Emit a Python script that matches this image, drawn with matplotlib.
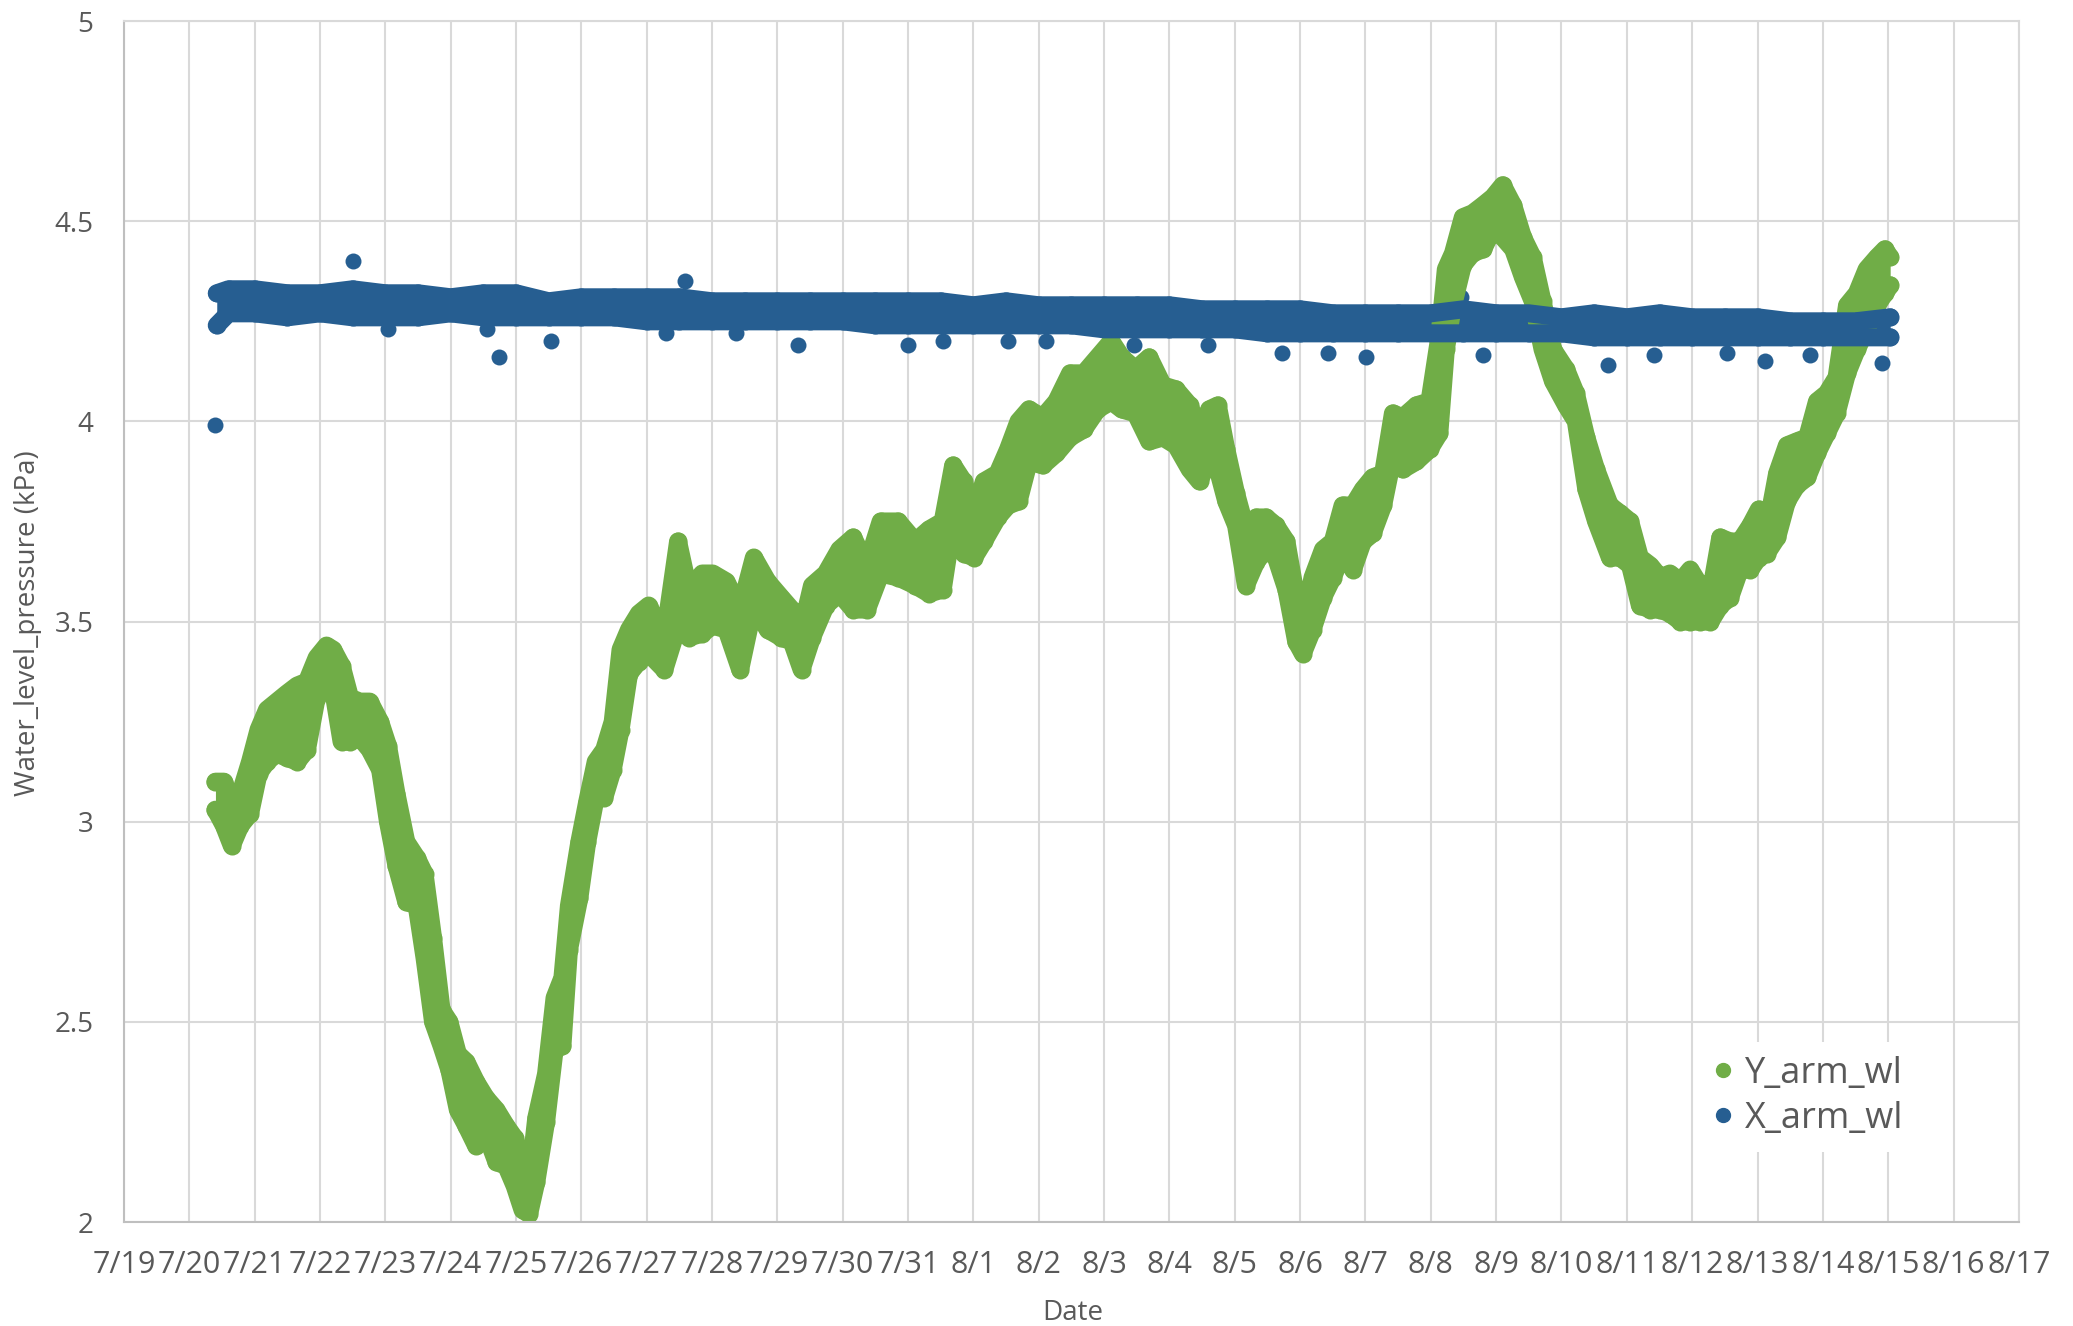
import matplotlib.pyplot as plt
from matplotlib.lines import Line2D
import numpy as np

plt.rcParams['font.family'] = ['Open Sans', 'DejaVu Sans']

# x = days after 7/19 00:00
date_labels = ["7/19", "7/20", "7/21", "7/22", "7/23", "7/24", "7/25", "7/26",
               "7/27", "7/28", "7/29", "7/30", "7/31", "8/1", "8/2", "8/3",
               "8/4", "8/5", "8/6", "8/7", "8/8", "8/9", "8/10", "8/11",
               "8/12", "8/13", "8/14", "8/15", "8/16", "8/17"]
y_ticks = [2, 2.5, 3, 3.5, 4, 4.5, 5]

# Y_arm_wl: upper / lower edge of the dense point cloud
y_arm_t = [1.40, 1.53, 1.65, 1.78, 1.93, 2.06, 2.19, 2.34, 2.49, 2.65, 2.80, 2.95,
           3.10, 3.20, 3.33, 3.46, 3.61, 3.76, 3.92, 4.04, 4.17, 4.32, 4.48, 4.60,
           4.73, 4.86, 4.98, 5.11, 5.24, 5.39, 5.54, 5.70, 5.85, 5.98, 6.10, 6.20,
           6.31, 6.46, 6.59, 6.71, 6.81, 6.97, 7.09, 7.22, 7.35, 7.48, 7.60, 7.73,
           7.88, 8.03, 8.27, 8.48, 8.64, 8.85, 9.01, 9.22, 9.43, 9.64, 9.85, 10.06,
           10.22, 10.37, 10.53, 10.74, 10.95, 11.16, 11.37, 11.58, 11.85, 12.11,
           12.32, 12.53, 12.69, 12.85, 13.01, 13.16, 13.37, 13.53, 13.69, 13.85,
           14.06, 14.27, 14.48, 14.69, 14.90, 15.11, 15.27, 15.48, 15.69, 15.90,
           16.10, 16.31, 16.46, 16.61, 16.74, 16.87, 17.02, 17.17, 17.33, 17.48,
           17.63, 17.79, 17.94, 18.04, 18.19, 18.35, 18.50, 18.65, 18.81, 18.96,
           19.11, 19.27, 19.42, 19.57, 19.78, 19.98, 20.13, 20.23, 20.34, 20.49,
           20.64, 20.80, 20.95, 21.10, 21.26, 21.41, 21.56, 21.71, 21.87, 22.07,
           22.22, 22.38, 22.53, 22.74, 22.90, 23.05, 23.20, 23.36, 23.51, 23.66,
           23.82, 23.97, 24.12, 24.28, 24.43, 24.58, 24.73, 24.89, 25.02, 25.14,
           25.30, 25.45, 25.60, 25.76, 25.91, 26.06, 26.21, 26.37, 26.52, 26.67,
           26.83, 26.95, 27.03]
y_arm_hi = [3.10, 3.10, 3.05, 3.07, 3.15, 3.23, 3.28, 3.30, 3.32, 3.34, 3.35, 3.41,
            3.44, 3.43, 3.39, 3.31, 3.30, 3.30, 3.25, 3.19, 3.07, 2.95, 2.91, 2.87,
            2.71, 2.53, 2.50, 2.42, 2.40, 2.35, 2.31, 2.28, 2.24, 2.21, 2.14, 2.10,
            2.26, 2.37, 2.56, 2.61, 2.79, 2.95, 3.05, 3.15, 3.18, 3.25, 3.43, 3.48,
            3.52, 3.54, 3.46, 3.70, 3.58, 3.62, 3.62, 3.60, 3.53, 3.66, 3.60, 3.56,
            3.53, 3.48, 3.59, 3.62, 3.68, 3.71, 3.64, 3.75, 3.75, 3.70,
            3.73, 3.75, 3.89, 3.85, 3.77, 3.85, 3.87, 3.93, 4.00, 4.03,
            4.01, 4.05, 4.12, 4.12, 4.16, 4.20, 4.16, 4.13, 4.16, 4.09,
            4.08, 4.04, 3.97, 4.03, 4.04, 3.93, 3.82, 3.73, 3.76, 3.76,
            3.74, 3.70, 3.56, 3.49, 3.61, 3.68, 3.70, 3.79, 3.79, 3.83,
            3.86, 3.87, 4.02, 4.01, 4.04, 4.05, 4.21, 4.38, 4.42, 4.51,
            4.52, 4.54, 4.56, 4.59, 4.54, 4.46, 4.41, 4.30, 4.18, 4.13,
            4.07, 3.96, 3.88, 3.79, 3.77, 3.75, 3.66, 3.64, 3.61, 3.62,
            3.60, 3.63, 3.59, 3.57, 3.71, 3.70, 3.70, 3.74, 3.78, 3.73,
            3.87, 3.94, 3.95, 3.96, 4.05, 4.07, 4.11, 4.29, 4.32, 4.38,
            4.41, 4.43, 4.41]
y_arm_lo = [3.03, 2.99, 2.94, 2.99, 3.02, 3.12, 3.15, 3.17, 3.16, 3.15, 3.18, 3.31,
            3.34, 3.33, 3.20, 3.20, 3.21, 3.18, 3.13, 3.00, 2.89, 2.80, 2.79, 2.66,
            2.50, 2.44, 2.38, 2.28, 2.24, 2.19, 2.22, 2.15, 2.14, 2.09, 2.03, 2.02,
            2.10, 2.25, 2.43, 2.44, 2.68, 2.81, 2.95, 3.06, 3.06, 3.13, 3.23, 3.37,
            3.40, 3.42, 3.38, 3.49, 3.46, 3.47, 3.49, 3.48, 3.38, 3.54, 3.48, 3.46,
            3.45, 3.38, 3.46, 3.54, 3.57, 3.53, 3.53, 3.62, 3.61, 3.59,
            3.57, 3.58, 3.75, 3.67, 3.66, 3.70, 3.76, 3.79, 3.80, 3.90,
            3.89, 3.92, 3.96, 3.98, 4.03, 4.05, 4.03, 4.02, 3.95, 3.96,
            3.94, 3.88, 3.85, 3.91, 3.88, 3.80, 3.74, 3.59, 3.65, 3.68,
            3.66, 3.58, 3.45, 3.42, 3.48, 3.56, 3.61, 3.67, 3.63, 3.70,
            3.72, 3.79, 3.91, 3.88, 3.90, 3.93, 3.97, 4.18, 4.29, 4.39,
            4.42, 4.43, 4.48, 4.46, 4.43, 4.36, 4.30, 4.18, 4.10, 4.04,
            4.00, 3.83, 3.75, 3.66, 3.66, 3.64, 3.54, 3.53, 3.53, 3.52,
            3.50, 3.50, 3.50, 3.50, 3.54, 3.56, 3.63, 3.63, 3.66, 3.67,
            3.71, 3.80, 3.84, 3.86, 3.92, 3.97, 4.02, 4.12, 4.18, 4.23,
            4.29, 4.32, 4.34]

# X_arm_wl: upper / lower edge of the band, plus the stray points
x_arm_t = [1.42, 1.6, 2.0, 2.5, 3.0, 3.5, 4.0, 4.5, 5.0, 5.5, 6.0, 6.5, 7.0, 7.5,
           8.0, 8.5, 9.0, 9.5, 10.0, 10.5, 11.0, 11.5, 12.0, 12.5, 13.0, 13.5,
           14.0, 14.5, 15.0, 15.5, 16.0, 16.5, 17.0, 17.5, 18.0, 18.5, 19.0,
           19.5, 20.0, 20.5, 21.0, 21.5, 22.0, 22.5, 23.0, 23.5, 24.0, 24.5,
           25.0, 25.5, 26.0, 26.5, 27.03]
x_arm_hi = [4.32, 4.33, 4.33, 4.32, 4.32, 4.33, 4.32, 4.32, 4.31, 4.32, 4.32, 4.30,
            4.31, 4.31, 4.31, 4.31, 4.30, 4.30, 4.30, 4.30, 4.30, 4.30, 4.30, 4.30,
            4.29, 4.30, 4.29, 4.29, 4.29, 4.29, 4.29, 4.28, 4.28, 4.28, 4.28, 4.27,
            4.27, 4.27, 4.27, 4.28, 4.27, 4.27, 4.26, 4.27, 4.26, 4.27, 4.26, 4.26,
            4.26, 4.25, 4.25, 4.25, 4.26]
x_arm_lo = [4.24, 4.27, 4.27, 4.26, 4.27, 4.26, 4.26, 4.26, 4.27, 4.26, 4.26, 4.26,
            4.26, 4.26, 4.25, 4.25, 4.25, 4.25, 4.25, 4.25, 4.25, 4.24, 4.24, 4.24,
            4.24, 4.24, 4.24, 4.24, 4.23, 4.23, 4.23, 4.23, 4.23, 4.22, 4.22, 4.22,
            4.22, 4.22, 4.22, 4.22, 4.22, 4.22, 4.22, 4.21, 4.21, 4.21, 4.21, 4.21,
            4.21, 4.21, 4.21, 4.21, 4.21]
x_out_t = [1.40, 3.50, 4.04, 5.56, 5.74, 6.54, 8.29, 8.58, 9.37, 10.32, 12.00, 12.53,
           13.53, 14.11, 15.45, 16.59, 17.73, 18.42, 19.01, 20.46, 20.80, 22.71,
           23.41, 24.53, 25.12, 25.81, 26.90]
x_out_y = [3.99, 4.40, 4.23, 4.23, 4.16, 4.20, 4.22, 4.35, 4.22, 4.19, 4.19, 4.20,
           4.20, 4.20, 4.19, 4.19, 4.17, 4.17, 4.16, 4.31, 4.165, 4.14,
           4.165, 4.17, 4.15, 4.165, 4.145]

GREEN = "#70AD47"
BLUE = "#265E91"
TEXT = "#595959"
DOT = 13.0  # marker diameter in points


def draw_band(ax, t, hi, lo, color):
    # the logger points are so dense they merge into a thick band
    ax.fill_between(t, lo, hi, color=color, lw=0)
    for edge in (hi, lo):
        ax.plot(t, edge, color=color, lw=DOT,
                solid_capstyle="round", solid_joinstyle="round")
    ax.scatter(np.concatenate([t, t]), np.concatenate([hi, lo]),
               s=DOT ** 2, color=color, lw=0)


fig = plt.figure(figsize=(20.73, 13.26), dpi=100)
ax = fig.add_axes([0.0598, 0.0784, 0.9141, 0.9057])

draw_band(ax, y_arm_t, y_arm_hi, y_arm_lo, GREEN)
draw_band(ax, x_arm_t, x_arm_hi, x_arm_lo, BLUE)
ax.scatter(x_out_t, x_out_y, s=11.5 ** 2, color=BLUE, lw=0)

ax.set_xlim(0, 29)
ax.set_ylim(2, 5)
ax.set_xticks(np.arange(len(date_labels)))
ax.set_xticklabels(date_labels)
ax.set_yticks(y_ticks)
ax.set_yticklabels(["2", "2.5", "3", "3.5", "4", "4.5", "5"])
ax.tick_params(axis="both", length=0, colors=TEXT)
ax.tick_params(axis="x", pad=20, labelsize=22)
ax.tick_params(axis="y", pad=22, labelsize=20)

ax.set_axisbelow(True)
ax.grid(True, color="#D9D9D9", lw=1.5)
for side in ("left", "bottom"):
    ax.spines[side].set_color("#BFBFBF")
    ax.spines[side].set_linewidth(1.5)
for side in ("top", "right"):
    ax.spines[side].set_color("#D9D9D9")
    ax.spines[side].set_linewidth(1.5)

fig.text(0.0135, 0.530, "Water_level_pressure (kPa)", rotation=90,
         ha="center", va="center", fontsize=20, color=TEXT)
fig.text(0.5176, 0.010, "Date", ha="center", va="center", fontsize=20, color=TEXT)

handles = [Line2D([], [], marker="o", ls="", color=GREEN, ms=10),
           Line2D([], [], marker="o", ls="", color=BLUE, ms=10)]
leg = fig.legend(handles, ["Y_arm_wl", "X_arm_wl"], loc="center",
                 bbox_to_anchor=(0.872, 0.173), fontsize=26, frameon=True,
                 facecolor="white", edgecolor="none", framealpha=1,
                 handlelength=0.6, handletextpad=0.3, labelspacing=0.25)
for txt in leg.get_texts():
    txt.set_color(TEXT)

fig.savefig("out.png", dpi=100)
